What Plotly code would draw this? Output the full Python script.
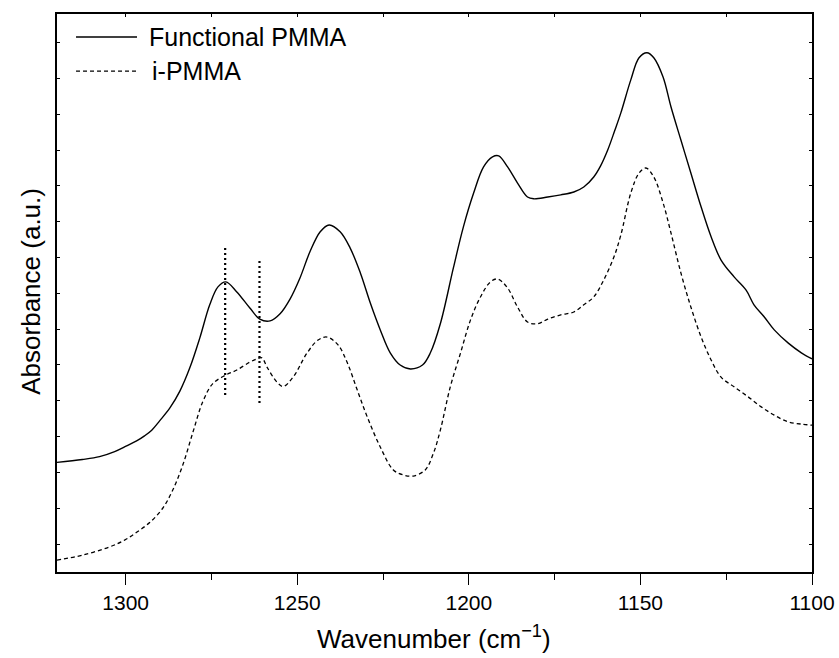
import plotly.graph_objects as go

# Functional PMMA (solid)
wn_func = [1320.0, 1312.6, 1307.6, 1303.2, 1299.7, 1296.8, 1294.5, 1292.4, 1290.1, 1287.1,
           1284.2, 1281.3, 1278.4, 1275.5, 1273.1, 1270.8, 1267.6, 1263.8, 1260.9, 1257.9,
           1255.0, 1252.1, 1249.2, 1246.3, 1243.3, 1240.7, 1237.5, 1234.6, 1231.6, 1228.7,
           1225.8, 1222.9, 1220.0, 1217.0, 1213.5, 1211.2, 1208.3, 1204.5, 1201.6, 1198.6,
           1195.7, 1193.1, 1191.3, 1188.7, 1185.8, 1182.9, 1181.1, 1177.0, 1173.2, 1169.4,
           1166.5, 1163.6, 1161.6, 1159.5, 1157.5, 1155.7, 1152.8, 1150.4, 1148.1, 1146.1,
           1143.4, 1141.1, 1138.2, 1135.3, 1132.3, 1129.4, 1126.5, 1122.7, 1119.2, 1116.9,
           1113.9, 1111.0, 1106.9, 1103.1, 1100.0]
abs_func = [0.228, 0.236, 0.244, 0.258, 0.274, 0.288, 0.302, 0.318, 0.344, 0.380,
            0.427, 0.492, 0.575, 0.668, 0.718, 0.732, 0.704, 0.659, 0.628, 0.623,
            0.643, 0.684, 0.743, 0.816, 0.872, 0.891, 0.872, 0.827, 0.757, 0.673,
            0.598, 0.534, 0.500, 0.489, 0.500, 0.534, 0.615, 0.771, 0.885, 0.980,
            1.053, 1.081, 1.084, 1.053, 1.008, 0.969, 0.964, 0.969, 0.975, 0.983,
            0.997, 1.025, 1.056, 1.101, 1.154, 1.204, 1.296, 1.358, 1.372, 1.358,
            1.304, 1.221, 1.128, 1.036, 0.941, 0.858, 0.793, 0.746, 0.709, 0.668,
            0.634, 0.598, 0.561, 0.534, 0.517]

# i-PMMA (dashed)
wn_iso = [1320.0, 1312.6, 1304.7, 1300.3, 1296.8, 1293.0, 1289.2, 1286.3, 1283.3, 1280.4,
          1277.5, 1274.6, 1270.8, 1267.6, 1263.8, 1261.7, 1260.3, 1258.8, 1255.9, 1254.1,
          1251.2, 1247.1, 1243.9, 1241.3, 1238.1, 1235.4, 1232.5, 1229.6, 1225.8, 1222.0,
          1219.1, 1216.2, 1212.7, 1210.3, 1208.3, 1205.4, 1202.4, 1199.5, 1196.6, 1193.7,
          1191.6, 1188.7, 1185.8, 1182.9, 1180.0, 1177.0, 1173.2, 1169.4, 1166.5, 1163.6,
          1160.7, 1157.7, 1155.7, 1152.8, 1150.4, 1148.4, 1146.1, 1143.4, 1141.1, 1138.2,
          1135.3, 1132.3, 1129.4, 1126.5, 1122.7, 1118.6, 1114.8, 1111.0, 1106.9, 1103.1,
          1100.0]
abs_iso = [-0.045, -0.031, -0.008, 0.011, 0.033, 0.060, 0.100, 0.150, 0.222, 0.312,
           0.398, 0.448, 0.472, 0.486, 0.508, 0.517, 0.520, 0.494, 0.452, 0.440,
           0.466, 0.534, 0.570, 0.578, 0.556, 0.506, 0.430, 0.355, 0.271, 0.207,
           0.193, 0.190, 0.207, 0.254, 0.318, 0.439, 0.534, 0.626, 0.690, 0.732,
           0.740, 0.715, 0.662, 0.620, 0.615, 0.628, 0.640, 0.648, 0.668, 0.690,
           0.737, 0.802, 0.863, 0.980, 1.036, 1.050, 1.025, 0.953, 0.869, 0.757,
           0.662, 0.578, 0.514, 0.466, 0.439, 0.411, 0.383, 0.360, 0.341, 0.335,
           0.332]

# Vertical dotted marker lines
marker_wn = [1271, 1261]
marker_lo = [0.416, 0.394]
marker_hi = [0.832, 0.796]

series_names = ["Functional PMMA", "i-PMMA"]
x_ticks = [1300, 1250, 1200, 1150, 1100]
x_title = "Wavenumber (cm<sup>\u22121</sup>)"
y_title = "Absorbance (a.u.)"

FONT = "Liberation Sans, Arial, Helvetica, sans-serif"

fig = go.Figure()
fig.add_trace(go.Scatter(x=wn_func, y=abs_func, mode="lines", name=series_names[0],
                         line=dict(color="black", width=1.4, shape="spline", smoothing=1.0),
                         showlegend=False))
fig.add_trace(go.Scatter(x=wn_iso, y=abs_iso, mode="lines", name=series_names[1],
                         line=dict(color="black", width=1.3, dash="4px,3px", shape="spline", smoothing=1.0),
                         showlegend=False))
for w, lo, hi in zip(marker_wn, marker_lo, marker_hi):
    fig.add_trace(go.Scatter(x=[w, w], y=[lo, hi], mode="lines",
                             line=dict(color="black", width=2.2, dash="2px,3px"),
                             showlegend=False, hoverinfo="skip"))

# manual legend
legend_rows = [(0.9588, "solid"), (0.8978, "4px,3px")]
text_x = [0.119, 0.123]
for (yp, dash), name, tx in zip(legend_rows, series_names, text_x):
    fig.add_shape(type="line", xref="paper", yref="paper", x0=0.0252, x1=0.106, y0=yp, y1=yp,
                  line=dict(color="black", width=1.3, dash=dash))
    fig.add_annotation(xref="paper", yref="paper", x=tx, y=yp, text=name, showarrow=False,
                       xanchor="left", yanchor="middle", font=dict(family=FONT, size=25, color="black"))

# axis titles as annotations
fig.add_annotation(xref="paper", yref="paper", x=0.499, y=-0.118, text=x_title, showarrow=False,
                   xanchor="center", yanchor="middle", font=dict(family=FONT, size=26, color="black"))
fig.add_annotation(xref="paper", yref="paper", x=-0.0345, y=0.504, text=y_title, showarrow=False,
                   textangle=-90, xanchor="center", yanchor="middle",
                   font=dict(family=FONT, size=26, color="black"))

fig.update_layout(
    width=839, height=658,
    margin=dict(l=57, r=27, t=14, b=86),
    paper_bgcolor="white", plot_bgcolor="white",
    font=dict(family=FONT, color="black"),
    xaxis=dict(range=[1320, 1100], tickvals=x_ticks, ticks="outside", ticklen=11, tickwidth=1.3,
               tickcolor="black", showline=True, linecolor="black", linewidth=1.5, mirror=True,
               showgrid=False, zeroline=False, tickfont=dict(size=21, family=FONT), automargin=False,
               minor=dict(dtick=25, tick0=1100, ticks="outside", ticklen=6, tickwidth=1.3, tickcolor="black")),
    xaxis2=dict(range=[1320, 1100], overlaying="x", side="top", tick0=1100, dtick=25, ticks="inside",
                ticklen=3, tickwidth=1, tickcolor="black", showticklabels=False, showgrid=False,
                zeroline=False, showline=False, automargin=False),
    yaxis=dict(range=[-0.078, 1.480], tick0=0, dtick=0.1, ticks="inside", ticklen=3, tickwidth=1,
               tickcolor="black", showticklabels=False, showline=True, linecolor="black", linewidth=1.5,
               mirror="ticks", showgrid=False, zeroline=False, automargin=False),
)
# invisible trace to activate xaxis2
fig.add_trace(go.Scatter(x=[1200], y=[0.5], xaxis="x2", mode="markers", marker=dict(opacity=0),
                         showlegend=False, hoverinfo="skip"))

fig.write_html("out.html", config={"displayModeBar": False},
               post_script="document.body.style.margin='0';document.body.style.padding='0';")
